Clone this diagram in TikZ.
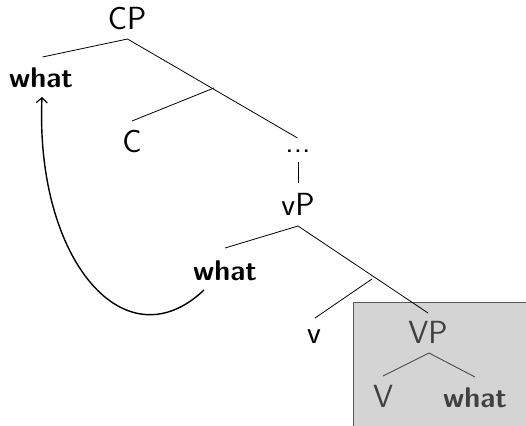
\documentclass[tikz,border=0pt]{standalone}
\usetikzlibrary{arrows.meta}
\begin{document}
\begin{tikzpicture}[x=1pt,y=-1pt,
  lbl/.style={font=\sffamily\fontsize{32}{38}\selectfont, anchor=base, inner sep=0pt},
  wh/.style={lbl, font=\sffamily\bfseries\fontsize{28.5}{34}\selectfont},
  br/.style={line width=0.8pt},
  inbox/.style={text=black!75, draw=none},
  mv/.style={line width=1.4pt, -{Straight Barb[length=5pt,width=11pt,line width=1.2pt]}}]
\useasboundingbox (0,0) rectangle (526,425);
\begin{scope}
\clip (0,0) rectangle (526,425);
\draw[fill=black!17, draw=black!65, line width=1pt] (353,302) rectangle (540,440);
\end{scope}
% nodes
\node[lbl] (cp) at (127,29.5) {CP};
\node[wh] (wh1) at (41,88) {what};
\node[lbl] (c) at (132,152) {C};
\node[lbl] (dots) at (298,152) {...};
\node[lbl] (vp) at (298,215) {vP};
\node[wh] (wh2) at (225,280) {what};
\node[lbl] (v) at (314,343) {v};
\node[lbl, inbox] (VP) at (428,343) {VP};
\node[lbl, inbox] (V) at (383,407) {V};
\node[wh, inbox] (wh3) at (475,407) {what};
% branch points
\coordinate (cpT) at (127.5,39);
\coordinate (cpL) at (42.5,57);
\coordinate (cpR) at (297.5,138);
\coordinate (cbar) at (214,88);
\coordinate (cL) at (132,121);
\coordinate (dB) at (298,162);
\coordinate (vpT) at (298,183);
\coordinate (vT) at (298,226);
\coordinate (vL) at (225,248);
\coordinate (vR) at (428,313);
\coordinate (vbar) at (372,279);
\coordinate (vvL) at (315,318);
\coordinate (VT) at (429,353);
\coordinate (VL) at (383,376);
\coordinate (VR) at (475,377);
\draw[br] (cpL) -- (cpT) -- (cpR);
\draw[br] (cbar) -- (cL);
\draw[br] (dB) -- (vpT);
\draw[br] (vL) -- (vT) -- (vR);
\draw[br] (vbar) -- (vvL);
\draw[br, black!75] (VL) -- (VT) -- (VR);
% movement arrow
\coordinate (mvS) at (204,290);
\coordinate (mvE) at (42,97);
\draw[mv] (mvS) .. controls (125,365) and (35,260) .. (mvE);
\end{tikzpicture}
\end{document}
